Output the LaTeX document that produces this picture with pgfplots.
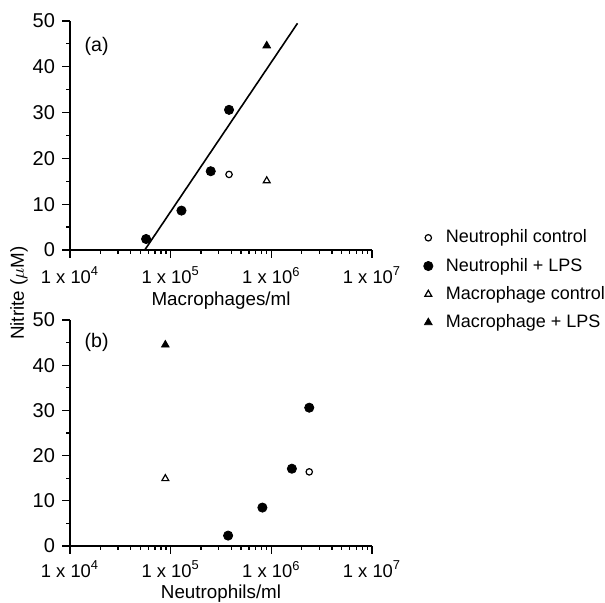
\documentclass[border=0pt]{standalone}
\usepackage{pgfplots}
\pgfplotsset{compat=1.18}
\usepackage{fontspec}
\setmainfont{Liberation Sans}

\tikzset{
  sNC/.style={only marks, mark=o, mark size=1.6pt, black, mark options={line width=0.6pt}},
  sNL/.style={only marks, mark=*, mark size=2.3pt, black},
  sMC/.style={only marks, mark=triangle, mark size=2pt, black, mark options={line width=0.6pt}},
  sML/.style={only marks, mark=triangle*, mark size=2.2pt, black},
}

\begin{document}
\begin{tikzpicture}
% page frame: 605x603 px at 0.5pt per px, origin at the corner of panel (a)
\path[use as bounding box] (-35pt,-176.5pt) rectangle (267.5pt,125pt);

\begin{semilogxaxis}[
  at={(0,0)}, anchor=south west,
  scale only axis, width=151pt, height=114.5pt,
  xmin=1e4, xmax=1e7, ymin=0, ymax=50,
  axis x line=bottom, axis y line=left,
  axis line style={-, line width=0.8pt},
  tick align=outside,
  tick style={black, line width=0.6pt},
  major tick length=4pt, minor tick length=2pt,
  xtick={1e4,1e5,1e6,1e7},
  xticklabels={1 x 10\textsuperscript{4},1 x 10\textsuperscript{5},1 x 10\textsuperscript{6},1 x 10\textsuperscript{7}},
  ytick={0,10,20,30,40,50},
  minor ytick={5,15,25,35,45},
  /pgf/number format/assume math mode=true,
  tick label style={font=\fontsize{9.2}{11}\selectfont},
  yticklabel style={font=\fontsize{10}{11}\selectfont},
  xticklabel style={yshift=-1pt},
  label style={font=\fontsize{9.4}{11}\selectfont},
  xlabel style={yshift=3pt},
  clip=false,
  xlabel={Macrophages/ml},
  legend style={draw=none, fill=none, at={(1.15,0.125)}, anchor=north west,
    font=\fontsize{9}{11}\selectfont, row sep=2.1pt,
    /tikz/every odd column/.append style={column sep=4.5pt}},
  legend cell align=left,
]
\addplot[sNC] coordinates {(3.8e5,16.5)};
\addplot[sNL] coordinates {(5.7e4,2.4) (1.28e5,8.6) (2.5e5,17.2) (3.8e5,30.6)};
\addplot[sMC] coordinates {(9.0e5,15.1)};
\addplot[sML] coordinates {(9.0e5,44.6)};
\addplot[black, line width=0.8pt, forget plot] coordinates {(5.53e4,0) (1.82e6,49.5)};
\node[anchor=west, font=\fontsize{9.8}{12}\selectfont] at (rel axis cs:0.025,0.89) {(a)};
\legend{Neutrophil control, Neutrophil + LPS, Macrophage control, Macrophage + LPS}
\end{semilogxaxis}

\begin{semilogxaxis}[
  at={(0,-148pt)}, anchor=south west,
  scale only axis, width=151pt, height=113pt,
  xmin=1e4, xmax=1e7, ymin=0, ymax=50,
  axis x line=bottom, axis y line=left,
  axis line style={-, line width=0.8pt},
  tick align=outside,
  tick style={black, line width=0.6pt},
  major tick length=4pt, minor tick length=2pt,
  xtick={1e4,1e5,1e6,1e7},
  xticklabels={1 x 10\textsuperscript{4},1 x 10\textsuperscript{5},1 x 10\textsuperscript{6},1 x 10\textsuperscript{7}},
  ytick={0,10,20,30,40,50},
  minor ytick={5,15,25,35,45},
  /pgf/number format/assume math mode=true,
  tick label style={font=\fontsize{9.2}{11}\selectfont},
  yticklabel style={font=\fontsize{10}{11}\selectfont},
  xticklabel style={yshift=0pt},
  label style={font=\fontsize{9.4}{11}\selectfont},
  xlabel style={yshift=3.5pt},
  clip=false,
  xlabel={Neutrophils/ml},
]
\addplot[sNC] coordinates {(2.38e6,16.4)};
\addplot[sNL] coordinates {(3.72e5,2.3) (8.15e5,8.5) (1.6e6,17.1) (2.38e6,30.6)};
\addplot[sMC] coordinates {(8.85e4,14.9)};
\addplot[sML] coordinates {(8.85e4,44.5)};
\node[anchor=west, font=\fontsize{9.8}{12}\selectfont] at (rel axis cs:0.025,0.9) {(b)};
\end{semilogxaxis}

\node[rotate=90, font=\fontsize{9.4}{11}\selectfont] at (-25.5pt,-21.5pt) {Nitrite ($\mu$M)};
\end{tikzpicture}
\end{document}
